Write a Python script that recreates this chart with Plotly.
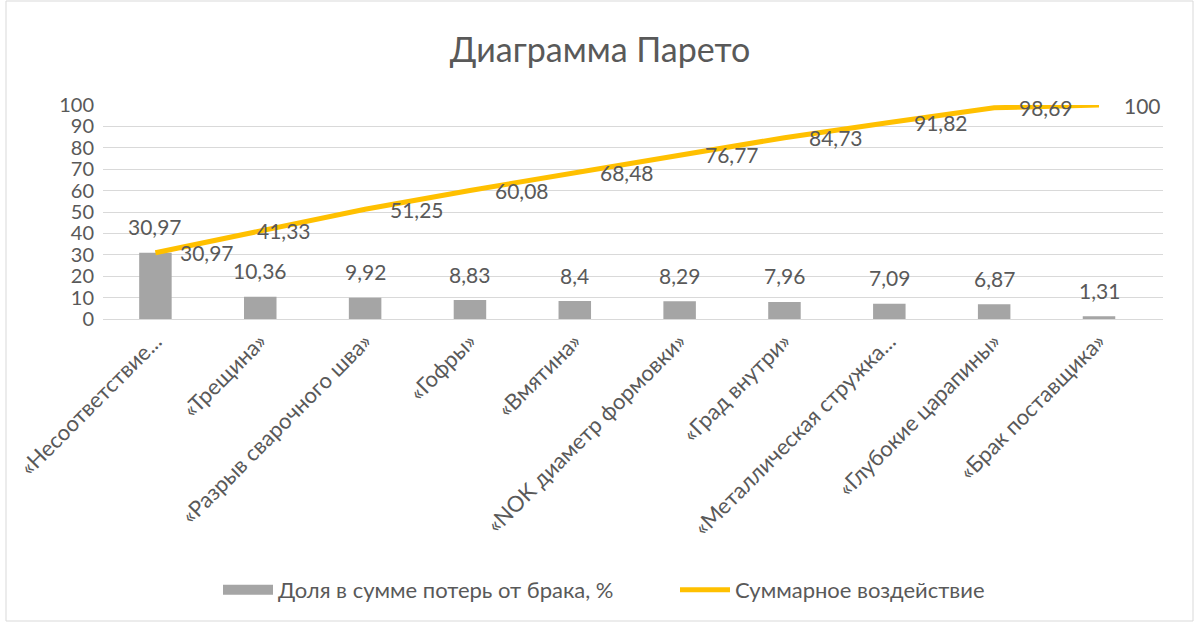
import plotly.graph_objects as go

# Pareto data: defect categories, share of losses (%) and cumulative share (%)
categories = [
    "«Несоответствие...",
    "«Трещина»",
    "«Разрыв сварочного шва»",
    "«Гофры»",
    "«Вмятина»",
    "«NOK диаметр формовки»",
    "«Град внутри»",
    "«Металлическая стружка...",
    "«Глубокие царапины»",
    "«Брак поставщика»",
]
share = [30.97, 10.36, 9.92, 8.83, 8.4, 8.29, 7.96, 7.09, 6.87, 1.31]
cumulative = [30.97, 41.33, 51.25, 60.08, 68.48, 76.77, 84.73, 91.82, 98.69, 100]

y_ticks = [0, 10, 20, 30, 40, 50, 60, 70, 80, 90, 100]

SHARE_NAME = "Доля в сумме потерь от брака, %"
CUM_NAME = "Суммарное воздействие"

FONT = "Lato"
TEXT = "#595959"
BAR = "#A5A5A5"
LINE = "#FFC000"
GRID = "#D9D9D9"


def fmt(v):
    return f"{v:g}".replace(".", ",")


fig = go.Figure()
fig.add_trace(go.Bar(
    x=categories, y=share, name=SHARE_NAME, showlegend=False,
    marker=dict(color=BAR, line=dict(width=0)), width=0.31,
))
# legend entry for the bars drawn as a wide flat swatch
fig.add_trace(go.Scatter(
    x=[None], y=[None], name=SHARE_NAME, mode="lines",
    line=dict(color=BAR, width=14), hoverinfo="skip",
))
fig.add_trace(go.Scatter(
    x=categories, y=cumulative, name=CUM_NAME,
    mode="lines", line=dict(color=LINE, width=5),
))

annotations = []
# value labels above the bars
for c, v in zip(categories, share):
    annotations.append(dict(
        x=c, y=v, text=fmt(v), showarrow=False, xref="x", yref="y",
        xanchor="center", yanchor="middle", yshift=26,
        font=dict(family=FONT, size=21, color=TEXT),
    ))
# cumulative labels to the right of the line points
line_label_dx = [23, -5, 23, 23, 23, 23, 23, 23, 23, 23]
for c, v, dx in zip(categories, cumulative, line_label_dx):
    annotations.append(dict(
        x=c, y=v, text=fmt(v), showarrow=False, xref="x", yref="y",
        xanchor="left", yanchor="middle", xshift=dx,
        font=dict(family=FONT, size=21, color=TEXT),
    ))

L, R, T, B = 103, 37, 105, 309
W, H = 1200, 628
pw, ph = W - L - R, H - T - B

fig.update_layout(
    width=W, height=H,
    margin=dict(l=L, r=R, t=T, b=B, pad=0),
    paper_bgcolor="white", plot_bgcolor="white",
    font=dict(family=FONT, color=TEXT),
    title=dict(
        text="Диаграмма Парето", x=0.5, xanchor="center",
        y=1 - 50 / H, yanchor="middle",
        font=dict(family=FONT, size=34, color=TEXT),
    ),
    showlegend=True,
    legend=dict(
        orientation="h", x=(218 - L) / pw, xanchor="left",
        y=(H - 590 - B) / ph, yanchor="middle",
        font=dict(family=FONT, size=22, color=TEXT),
        itemwidth=50, tracegroupgap=0,
        entrywidth=392, entrywidthmode="pixels",
    ),
    bargap=0.69,
    annotations=annotations,
    shapes=[dict(
        type="rect", xref="paper", yref="paper",
        x0=(6 - L) / pw, x1=(1193 - L) / pw,
        y0=(H - 621 - B) / ph, y1=(H - 1 - B) / ph,
        line=dict(color=GRID, width=1), fillcolor="rgba(0,0,0,0)", layer="below",
    )],
)

fig.update_xaxes(
    type="category", tickangle=-45, showgrid=False,
    showline=True, linecolor=GRID, linewidth=1, ticks="",
    tickfont=dict(family=FONT, size=22, color=TEXT),
)
fig.update_yaxes(
    range=[0, 100], tickvals=y_ticks, showgrid=True, gridcolor=GRID, gridwidth=1,
    zeroline=False, showline=False, ticks="",
    tickfont=dict(family=FONT, size=20, color=TEXT), ticklabelstandoff=8,
)

fig.write_html("out.html")
